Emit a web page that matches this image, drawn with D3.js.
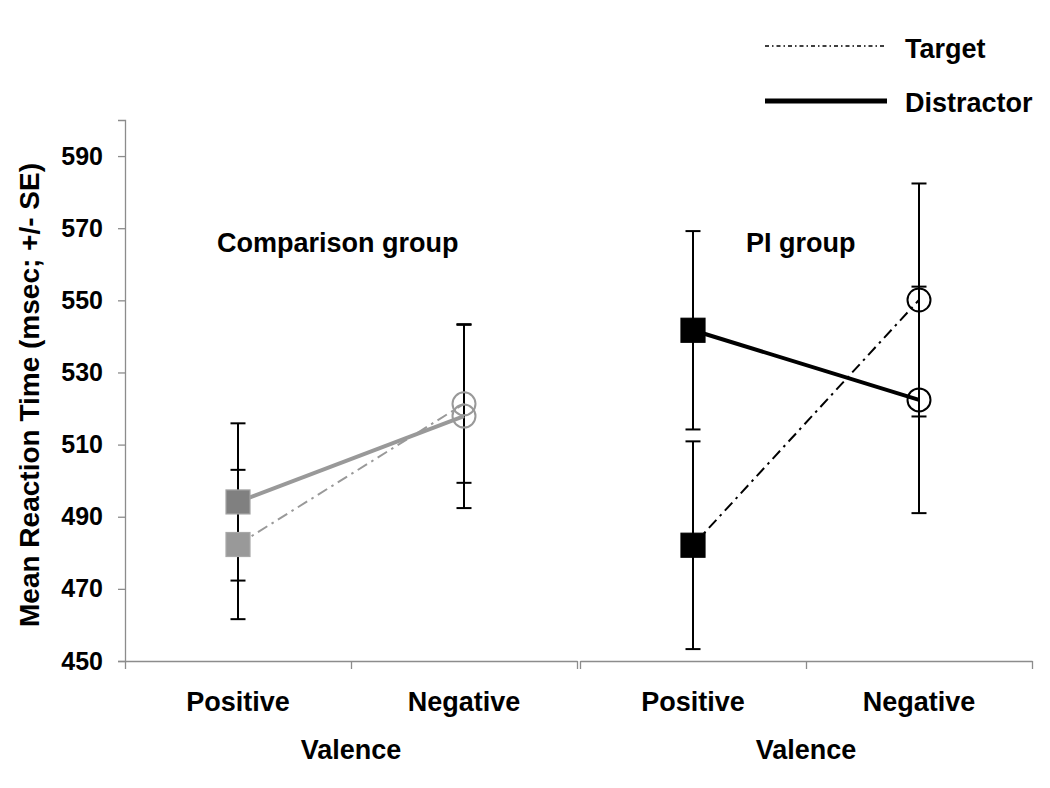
<!DOCTYPE html>
<html>
<head>
<meta charset="utf-8">
<script src="https://cdn.jsdelivr.net/npm/d3@7/dist/d3.min.js"></script>
<style>
  html, body { margin: 0; padding: 0; background: #fff; }
  svg text { font-family: "Liberation Sans", Arial, sans-serif; font-weight: bold; fill: #000; }
</style>
</head>
<body>
<svg id="chart" width="1050" height="788"></svg>
<script>
// ---- data ----
const groups = ["Comparison group", "PI group"];
const valence = ["Positive", "Negative"];
const seriesNames = ["Target", "Distractor"];
const compTarget = [482.3, 521.3];
const compTargetSE = [20.7, 21.9];
const compDistractor = [494.1, 517.9];
const compDistractorSE = [21.8, 25.5];
const piTarget = [482.1, 550.1];
const piTargetSE = [28.8, 32.3];
const piDistractor = [541.7, 522.4];
const piDistractorSE = [27.5, 31.4];
const yTicks = [450, 470, 490, 510, 530, 550, 570, 590];
const yTitle = "Mean Reaction Time (msec; +/- SE)";
const xTitle = "Valence";

// ---- layout ----
const svg = d3.select("#chart");
const yTop = 120, yBottom = 661;
const y = d3.scaleLinear().domain([450, 600]).range([yBottom, yTop]);

const panels = [
  { name: groups[0], x0: 125, x1: 577,
    target: compTarget, targetSE: compTargetSE,
    distractor: compDistractor, distractorSE: compDistractorSE,
    lineColor: "#999999", tSqFill: "#999999", tSqStroke: "#a8a8a8",
    dSqFill: "#808080", dSqStroke: "#a3a3a3", circStroke: "#999999",
    titleX: 217 },
  { name: groups[1], x0: 580, x1: 1032,
    target: piTarget, targetSE: piTargetSE,
    distractor: piDistractor, distractorSE: piDistractorSE,
    lineColor: "#000000", tSqFill: "#000000", tSqStroke: "#000000",
    dSqFill: "#000000", dSqStroke: "#000000", circStroke: "#000000",
    titleX: 746 }
];

const FS = 27;

// ---- y axis ----
const yAxis = d3.axisLeft(y).tickValues(yTicks).tickSize(7).tickPadding(15).tickFormat(d3.format("d"));
const yg = svg.append("g").attr("transform", "translate(125,0)").call(yAxis);
yg.select(".domain").attr("stroke", "#8c8c8c").attr("stroke-width", 1.3);
yg.selectAll(".tick line").attr("stroke", "#8c8c8c").attr("stroke-width", 1.3);
yg.selectAll(".tick text").style("font-size", "25px").style("font-family", "'Liberation Sans', Arial, sans-serif").style("font-weight", "bold").attr("fill", "#000");

svg.append("text")
  .attr("transform", "translate(39,395) rotate(-90)")
  .attr("text-anchor", "middle")
  .style("font-size", "28px")
  .text(yTitle);

// ---- panels ----
panels.forEach(p => {
  const x = d3.scalePoint().domain(valence).range([p.x0, p.x1]).padding(0.5);
  const xb = d3.scaleLinear().domain([0, valence.length]).range([p.x0, p.x1]);

  // x axis (band boundaries)
  const xAxis = d3.axisBottom(xb).tickValues(d3.range(valence.length + 1)).tickSize(8).tickSizeOuter(0).tickFormat("");
  const xg = svg.append("g").attr("transform", `translate(0,${yBottom})`).call(xAxis);
  xg.select(".domain").attr("stroke", "#8c8c8c").attr("stroke-width", 1.3);
  xg.selectAll(".tick line").attr("stroke", "#8c8c8c").attr("stroke-width", 1.3);

  // category labels
  svg.selectAll(null).data(valence).enter().append("text")
    .attr("x", d => x(d)).attr("y", 711)
    .attr("text-anchor", "middle")
    .style("font-size", FS + "px")
    .text(d => d);

  svg.append("text")
    .attr("x", (p.x0 + p.x1) / 2).attr("y", 759)
    .attr("text-anchor", "middle")
    .style("font-size", FS + "px")
    .text(xTitle);

  // group title
  svg.append("text")
    .attr("x", p.titleX).attr("y", 252)
    .style("font-size", FS + "px")
    .text(p.name);

  const series = [
    { vals: p.distractor, se: p.distractorSE, kind: "distractor" },
    { vals: p.target, se: p.targetSE, kind: "target" }
  ];

  // error bars
  const eb = svg.append("g").attr("stroke", "#000").attr("stroke-width", 2).attr("fill", "none");
  series.forEach(s => {
    valence.forEach((v, i) => {
      const cx = x(v), lo = y(s.vals[i] - s.se[i]), hi = y(s.vals[i] + s.se[i]);
      eb.append("line").attr("x1", cx).attr("x2", cx).attr("y1", lo).attr("y2", hi);
      eb.append("line").attr("x1", cx - 7.5).attr("x2", cx + 7.5).attr("y1", lo).attr("y2", lo);
      eb.append("line").attr("x1", cx - 7.5).attr("x2", cx + 7.5).attr("y1", hi).attr("y2", hi);
    });
  });

  // lines
  const line = d3.line().x((d, i) => x(valence[i])).y(d => y(d));
  svg.append("path").datum(p.target).attr("d", line)
    .attr("fill", "none").attr("stroke", p.lineColor).attr("stroke-width", 2)
    .attr("stroke-dasharray", "11,5,2.5,5");
  svg.append("path").datum(p.distractor).attr("d", line)
    .attr("fill", "none").attr("stroke", p.lineColor).attr("stroke-width", 4);

  // markers: Positive = filled squares, Negative = open circles
  const S = 24;
  series.forEach(s => {
    const cx = x(valence[0]), cy = y(s.vals[0]);
    svg.append("rect")
      .attr("x", cx - S / 2).attr("y", cy - S / 2).attr("width", S).attr("height", S)
      .attr("fill", s.kind === "target" ? p.tSqFill : p.dSqFill)
      .attr("stroke", s.kind === "target" ? p.tSqStroke : p.dSqStroke)
      .attr("stroke-width", 1.2);
    svg.append("circle")
      .attr("cx", x(valence[1])).attr("cy", y(s.vals[1])).attr("r", 11.5)
      .attr("fill", "none").attr("stroke", p.circStroke).attr("stroke-width", 2);
  });
});

// ---- legend ----
const legend = svg.append("g");
const legendRows = [
  { name: seriesNames[0], ly: 46, ty: 58, dash: "4,3,1.5,3", w: 1.5 },
  { name: seriesNames[1], ly: 101, ty: 112, dash: null, w: 5 }
];
legendRows.forEach(r => {
  legend.append("line").attr("x1", 765).attr("x2", 887).attr("y1", r.ly).attr("y2", r.ly)
    .attr("stroke", "#000").attr("stroke-width", r.w)
    .attr("stroke-dasharray", r.dash);
  legend.append("text").attr("x", 905).attr("y", r.ty)
    .style("font-size", FS + "px").text(r.name);
});
</script>
</body>
</html>
